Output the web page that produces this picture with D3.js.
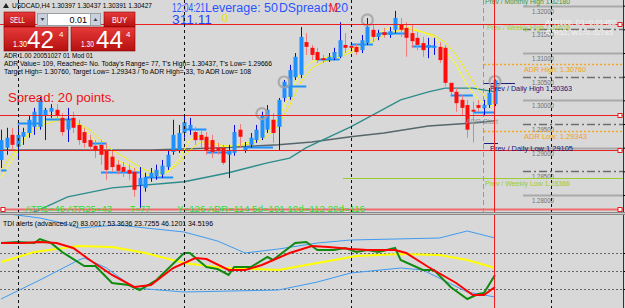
<!DOCTYPE html>
<html>
<head>
<meta charset="utf-8">
<script src="https://cdn.jsdelivr.net/npm/d3@7"></script>
<style>
  html, body { margin: 0; padding: 0; background: #d8d8d8; }
  svg { display: block; font-family: "Liberation Sans", Arial, sans-serif; }
</style>
</head>
<body>
<svg id="chart" width="625" height="308"></svg>
<script>
// ---- USDCAD H4 candles (oldest -> newest) ----
var opens  = [1.2874,1.2900,1.2927,1.2902,1.2923,1.2931,1.2944,1.2944,1.2969,1.2976,
              1.2980,1.2963,1.2938,1.2963,1.2948,1.2933,1.2916,1.2904,1.2906,1.2895,
              1.2881,1.2864,1.2859,1.2853,1.2849,1.2821,1.2815,1.2836,1.2840,1.2843,
              1.2859,1.2891,1.2895,1.2931,1.2938,1.2933,1.2927,1.2923,1.2916,1.2900,
              1.2900,1.2885,1.2889,1.2938,1.2895,1.2906,1.2916,1.2921,1.2938,1.2959,
              1.2944,1.3005,1.3007,1.3049,1.3054,1.3123,1.3111,1.3102,1.3089,1.3085,
              1.3089,1.3092,1.3117,1.3115,1.3113,1.3106,1.3121,1.3149,1.3134,1.3144,
              1.3138,1.3149,1.3161,1.3153,1.3142,1.3132,1.3121,1.3111,1.3111,1.3113,
              1.3111,1.3037,1.3018,1.3001,1.2990,1.2980,1.2990,1.2984,1.2990,1.2992];
var highs  = [1.2938,1.2942,1.2942,1.2948,1.2942,1.2969,1.2984,1.3007,1.2984,1.2992,
              1.2992,1.2973,1.2984,1.2976,1.2959,1.2942,1.2927,1.2916,1.2916,1.2910,
              1.2895,1.2874,1.2870,1.2864,1.2857,1.2859,1.2847,1.2857,1.2864,1.2874,
              1.2895,1.2959,1.2948,1.2967,1.2963,1.2944,1.2938,1.2933,1.2927,1.2910,
              1.2906,1.2906,1.2948,1.2950,1.2912,1.2931,1.2948,1.2976,1.2990,1.2973,
              1.3005,1.3043,1.3075,1.3100,1.3155,1.3142,1.3117,1.3111,1.3096,1.3100,
              1.3111,1.3165,1.3142,1.3123,1.3119,1.3138,1.3174,1.3159,1.3149,1.3153,
              1.3155,1.3189,1.3174,1.3165,1.3159,1.3144,1.3134,1.3132,1.3132,1.3123,
              1.3117,1.3036,1.3026,1.3011,1.3001,1.2997,1.3001,1.3001,1.3026,1.3044];
var lows   = [1.2857,1.2885,1.2895,1.2874,1.2906,1.2921,1.2927,1.2938,1.2916,1.2963,
              1.2959,1.2925,1.2912,1.2931,1.2906,1.2900,1.2895,1.2878,1.2864,1.2832,
              1.2849,1.2843,1.2838,1.2832,1.2796,1.2773,1.2807,1.2828,1.2832,1.2836,
              1.2853,1.2885,1.2889,1.2921,1.2927,1.2906,1.2900,1.2885,1.2878,1.2885,
              1.2864,1.2836,1.2883,1.2900,1.2889,1.2900,1.2910,1.2916,1.2931,1.2910,
              1.2895,1.2997,1.3001,1.3043,1.3047,1.3096,1.3085,1.3079,1.3079,1.3081,
              1.3085,1.3089,1.3100,1.3102,1.3096,1.3100,1.3117,1.3123,1.3127,1.3132,
              1.3132,1.3142,1.3134,1.3092,1.3111,1.3106,1.3092,1.3089,1.3096,1.3079,
              1.3030,1.3011,1.2976,1.2969,1.2921,1.2911,1.2976,1.2967,1.2984,1.2988];
var closes = [1.2916,1.2921,1.2906,1.2927,1.2933,1.2959,1.2976,1.3001,1.2980,1.2984,
              1.2969,1.2933,1.2959,1.2942,1.2916,1.2910,1.2902,1.2895,1.2885,1.2853,
              1.2859,1.2851,1.2849,1.2845,1.2811,1.2836,1.2838,1.2847,1.2853,1.2862,
              1.2885,1.2927,1.2931,1.2954,1.2948,1.2916,1.2916,1.2895,1.2891,1.2893,
              1.2868,1.2895,1.2933,1.2923,1.2902,1.2921,1.2938,1.2969,1.2980,1.2931,
              1.3001,1.3039,1.3064,1.3092,1.3134,1.3113,1.3096,1.3085,1.3085,1.3092,
              1.3102,1.3127,1.3111,1.3111,1.3102,1.3127,1.3155,1.3134,1.3142,1.3138,
              1.3146,1.3174,1.3149,1.3132,1.3125,1.3117,1.3106,1.3117,1.3115,1.3085,
              1.3037,1.3018,1.2994,1.2984,1.2938,1.2976,1.2984,1.2990,1.3016,1.3042];

// moving averages, [bar, price]
var yellowFast = [[0,1.2836],[2,1.2874],[4,1.2916],[6,1.2944],[8,1.2957],[10,1.2963],[12,1.2961],
  [14,1.2948],[16,1.2927],[18,1.2900],[20,1.2878],[22,1.2868],[24,1.2857],[26,1.2843],[28,1.2838],
  [30,1.2849],[32,1.2874],[34,1.2916],[36,1.2925],[38,1.2910],[40,1.2902],[42,1.2904],[44,1.2910],
  [46,1.2916],[48,1.2933],[50,1.2963],[52,1.3011],[54,1.3060],[56,1.3081],[58,1.3089],[60,1.3094],
  [62,1.3102],[64,1.3113],[66,1.3127],[68,1.3142],[70,1.3153],[72,1.3157],[74,1.3153],[76,1.3144],
  [78,1.3134],[80,1.3106],[82,1.3075],[84,1.3032],[86,1.3001],[88,1.2990],[89,1.2988]];
var yellowSlow = [[0,1.2853],[2,1.2885],[4,1.2916],[6,1.2938],[8,1.2950],[10,1.2957],[12,1.2957],
  [14,1.2950],[16,1.2938],[18,1.2916],[20,1.2895],[22,1.2881],[24,1.2866],[26,1.2853],[28,1.2847],
  [30,1.2849],[32,1.2866],[34,1.2895],[36,1.2912],[38,1.2910],[40,1.2904],[42,1.2904],[44,1.2906],
  [46,1.2912],[48,1.2923],[50,1.2948],[52,1.2990],[54,1.3039],[56,1.3068],[58,1.3081],[60,1.3087],
  [62,1.3096],[64,1.3106],[66,1.3119],[68,1.3132],[70,1.3142],[72,1.3149],[74,1.3149],[76,1.3144],
  [78,1.3138],[80,1.3123],[82,1.3096],[84,1.3060],[86,1.3022],[88,1.3001],[89,1.2994]];
var tealMa = [[0,1.2737],[7,1.2769],[12,1.2796],[20,1.2815],[33,1.2828],[41,1.2847],[48,1.2868],
  [52,1.2878],[55,1.2900],[63,1.2944],[72,1.3001],[77,1.3018],[80,1.3026],[85,1.3026],[89,1.3018]];
var grayMa = [[0,1.2895],[10,1.2895],[20,1.2895],[27,1.2895],[40,1.2900],[50,1.2906],[56,1.2912],
  [63,1.2923],[69,1.2931],[77,1.2946],[85,1.2952],[89,1.2957]];

// support / resistance segments [fromBar, toBar, price]
var srSegments = [[0,1,1.2853],[3,7,1.2952],[8,13,1.2961],[16,19,1.2910],[18,25,1.2849],
  [26,31,1.2838],[33,37,1.2940],[37,41,1.2891],[44,49,1.2902],[51,55,1.3030],[57,61,1.3087],
  [63,67,1.3119],[68,73,1.3142],[74,78,1.3115],[81,85,1.3011],[85,89,1.2976]];
var markedBars = [47, 51, 66, 89];

// levels
var levelPrices = [1.28, 1.285, 1.29, 1.295, 1.30, 1.305, 1.31, 1.315, 1.32];
var redLines = [1.3162, 1.2969, 1.2895, 1.2771];
var weekStarts = [3, 33, 63, 99];
var dayStart = 87, currentBar = 89;
var adrHigh = 1.30760, adrLow = 1.29343;
var prevDayHigh = 1.30363, prevDayLow = 1.29105;
var prevWeekHigh = 1.31619, prevWeekLow = 1.28366, prevMonthHigh = 1.32180;

// TDI sub window [bar, value]
var tdiUpper = [[0,108],[7,103],[11,98],[14,93],[21,96],[33,89],[39,80],[44,68],[50,72],[57,78],
  [63,81],[79,83],[84,90],[89,83]];
var tdiLower = [[0,22],[7,41],[14,61],[15,63],[19,53],[24,33],[33,29],[50,31],[57,39],[63,48],
  [72,53],[76,51],[84,29],[89,24]];
var tdiYellow = [[0,59],[6,69],[14,75],[20,74],[26,68],[33,58],[40,53],[50,51],[57,58],[64,65],
  [72,67],[79,66],[84,61],[89,53]];
var tdiGreen = [[0,78],[3,79],[6,78],[7,82],[9,78],[11,69],[15,55],[17,55],[20,38],[23,36],[25,31],
  [28,41],[33,68],[34,68],[37,54],[39,52],[41,46],[42,54],[45,54],[48,64],[49,61],[53,78],[55,79],
  [57,71],[60,71],[62,73],[64,69],[66,71],[68,69],[71,73],[72,61],[76,51],[78,51],[81,34],[84,22],
  [86,27],[87,28],[89,46]];
var tdiRed = [[0,78],[4,78],[7,79],[10,78],[13,73],[16,61],[20,46],[24,34],[27,36],[31,53],[35,63],
  [37,62],[41,51],[44,51],[47,56],[52,68],[56,75],[59,74],[63,72],[66,71],[71,71],[73,68],[77,54],
  [82,38],[85,26],[87,26],[89,34]];
var tdiLevels = [32, 50, 68];

var svg = d3.select('#chart');
var plotRight = 623, mainBottom = 212, subTop = 215, subBottom = 308;

var x = d3.scaleLinear().domain([0, 89]).range([1.05, 495]);
var y = d3.scaleLinear().domain([1.28, 1.31]).range([195, 53]);
var yT = d3.scaleLinear().domain([32, 68]).range([289, 253]);

svg.append('rect').attr('width', 625).attr('height', 308).attr('fill', '#d8d8d8');

var defs = svg.append('defs');
defs.append('clipPath').attr('id', 'mainClip').append('rect')
  .attr('x', 0).attr('y', 0).attr('width', plotRight).attr('height', mainBottom);
defs.append('clipPath').attr('id', 'subClip').append('rect')
  .attr('x', 0).attr('y', subTop).attr('width', plotRight).attr('height', subBottom - subTop);
var grad = defs.append('linearGradient').attr('id', 'redGrad').attr('x1', 0).attr('y1', 0).attr('x2', 0).attr('y2', 1);
grad.append('stop').attr('offset', '0%').attr('stop-color', '#e83a3a');
grad.append('stop').attr('offset', '100%').attr('stop-color', '#b51010');

var main = svg.append('g').attr('clip-path', 'url(#mainClip)');
var sub = svg.append('g').attr('clip-path', 'url(#subClip)');

function txt(g, s, px, py, size, color, len) {
  var t = g.append('text').attr('x', px).attr('y', py).attr('font-size', size)
    .attr('fill', color).text(s);
  if (len) t.attr('textLength', len).attr('lengthAdjust', 'spacingAndGlyphs');
  return t;
}

// round number levels on the right
levelPrices.forEach(function(p, k) {
  var yy = Math.round(y(p)) + 0.5;
  if (k % 2 === 0) {
    main.append('line').attr('x1', 523).attr('x2', plotRight).attr('y1', yy).attr('y2', yy)
      .attr('stroke', '#a9a9a9').attr('stroke-width', 2);
  } else {
    main.append('line').attr('x1', 523).attr('x2', plotRight).attr('y1', yy).attr('y2', yy)
      .attr('stroke', '#6e6e6e').attr('stroke-width', 1.5).attr('stroke-dasharray', '8,3,2,3');
  }
  txt(main, p.toFixed(5), 532, yy + 7, 7.5, '#6f6f6f', 22);
});

// separators
weekStarts.forEach(function(b) {
  var xx = Math.round(x(b)) + 0.5;
  svg.append('line').attr('x1', xx).attr('x2', xx).attr('y1', 0).attr('y2', 308)
    .attr('stroke', '#111').attr('stroke-dasharray', '3,3');
});
main.append('line').attr('x1', Math.round(x(dayStart)) - 0.5).attr('x2', Math.round(x(dayStart)) - 0.5)
  .attr('y1', 0).attr('y2', mainBottom).attr('stroke', '#9a9a9a').attr('stroke-dasharray', '5,3');

// weekly / daily / ADR lines
function hline(p, x1, color, w, dash) {
  var yy = Math.round(y(p)) + 0.5;
  var l = main.append('line').attr('x1', x1).attr('x2', plotRight).attr('y1', yy).attr('y2', yy)
    .attr('stroke', color).attr('stroke-width', w);
  if (dash) l.attr('stroke-dasharray', dash);
  return l;
}
hline(prevWeekLow, 343, '#9acd32', 1);
hline(prevWeekHigh, 343, '#9acd32', 1);
hline(adrHigh, x(dayStart), '#f5a623', 1.5, '2,2');
hline(adrLow, x(dayStart), '#f5a623', 1.5, '2,2');
main.append('line').attr('x1', x(dayStart)).attr('x2', 515).attr('y1', Math.round(y(prevDayHigh)) + 0.5)
  .attr('y2', Math.round(y(prevDayHigh)) + 0.5).attr('stroke', '#1c1c7c');
main.append('line').attr('x1', x(dayStart)).attr('x2', 498).attr('y1', Math.round(y(prevDayLow)) + 0.5)
  .attr('y2', Math.round(y(prevDayLow)) + 0.5).attr('stroke', '#1c1c7c');

// moving averages
var maLine = d3.line().x(function(d) { return x(d[0]); }).y(function(d) { return y(d[1]); });
main.append('path').attr('d', maLine(grayMa)).attr('fill', 'none').attr('stroke', '#56666a').attr('stroke-width', 1.5);
main.append('path').attr('d', maLine(tealMa)).attr('fill', 'none').attr('stroke', '#2c8c8c').attr('stroke-width', 1.3);
main.append('path').attr('d', maLine(yellowSlow)).attr('fill', 'none').attr('stroke', '#f4f000').attr('stroke-width', 1);
main.append('path').attr('d', maLine(yellowFast)).attr('fill', 'none').attr('stroke', '#ffff20').attr('stroke-width', 1);

// S/R segments
main.selectAll('line.sr').data(srSegments).enter().append('line').attr('class', 'sr')
  .attr('x1', function(d) { return x(d[0]); }).attr('x2', function(d) { return x(d[1]); })
  .attr('y1', function(d) { return Math.round(y(d[2])) + 0.5; })
  .attr('y2', function(d) { return Math.round(y(d[2])) + 0.5; })
  .attr('stroke', '#1e90ff').attr('stroke-width', 2);

// candles
var bars = d3.range(opens.length).map(function(i) {
  return { i: i, o: opens[i], h: highs[i], l: lows[i], c: closes[i] };
});
var cg = main.selectAll('g.bar').data(bars).enter().append('g').attr('class', 'bar');
cg.append('line')
  .attr('x1', function(d) { return Math.round(x(d.i)) + 0.5; })
  .attr('x2', function(d) { return Math.round(x(d.i)) + 0.5; })
  .attr('y1', function(d) { return y(d.h); }).attr('y2', function(d) { return y(d.l); })
  .attr('stroke', function(d) { return d.c >= d.o ? '#0a0adc' : '#f27a7a'; });
cg.append('rect')
  .attr('x', function(d) { return Math.round(x(d.i)) - 1.5; }).attr('width', 4)
  .attr('y', function(d) { return y(Math.max(d.o, d.c)); })
  .attr('height', function(d) { return Math.max(1, Math.abs(y(d.o) - y(d.c))); })
  .attr('fill', function(d) { return d.c >= d.o ? '#1e90ff' : '#ff0d0d'; });

main.selectAll('circle.mark').data(markedBars).enter().append('circle').attr('class', 'mark')
  .attr('cx', function(d) { return x(d); }).attr('cy', function(d) { return y(highs[d]) + 2; })
  .attr('r', 5.5).attr('fill', 'none').attr('stroke', '#a3a3a3').attr('stroke-width', 2.2).attr('opacity', 0.85);

// red horizontal lines
redLines.forEach(function(p, k) {
  var yy = Math.round(y(p)) + 0.5;
  main.append('line').attr('x1', 0).attr('x2', plotRight).attr('y1', yy).attr('y2', yy)
    .attr('stroke', k === 3 ? '#f06a6a' : '#ec2020').attr('stroke-width', k === 3 ? 2 : 1);
  main.append('rect').attr('x', 618).attr('y', yy - 2).attr('width', 4).attr('height', 4)
    .attr('fill', '#fff').attr('stroke', '#e02020');
});
main.append('rect').attr('x', 1).attr('y', Math.round(y(redLines[3])) - 1.5).attr('width', 4).attr('height', 4)
  .attr('fill', '#fff').attr('stroke', '#e02020');

// red time line
svg.append('line').attr('x1', Math.round(x(currentBar)) - 0.5).attr('x2', Math.round(x(currentBar)) - 0.5)
  .attr('y1', 0).attr('y2', 308).attr('stroke', '#ee1c1c');

// right axis
var axisMain = d3.axisRight(y).tickValues(levelPrices).tickSize(3).tickSizeOuter(0).tickFormat('');
svg.append('g').attr('transform', 'translate(' + (plotRight + 0.5) + ',0)').call(axisMain)
  .call(function(g) { g.select('.domain').attr('d', 'M0,0V' + mainBottom).attr('stroke', '#333'); });

// window separator
svg.append('rect').attr('x', 0).attr('y', mainBottom).attr('width', 625).attr('height', subTop - mainBottom)
  .attr('fill', '#c8c8c8');
svg.append('line').attr('x1', 0).attr('x2', 625).attr('y1', mainBottom + 0.5).attr('y2', mainBottom + 0.5).attr('stroke', '#8a8a8a');
svg.append('line').attr('x1', 0).attr('x2', 625).attr('y1', subTop - 0.5).attr('y2', subTop - 0.5).attr('stroke', '#8a8a8a');

// labels in main window
txt(main, 'Prev / Monthly High 1.32180', 485, 3.5, 7.5, '#3e963e', 85);
txt(main, 'Prev / Weekly High 1.31619', 487, 30, 7.5, '#9acd32', 83);
txt(main, 'ATR100, D1=0.01452', 545, 25, 7.5, '#f4f4f4', 71);
txt(main, 'ATR52, W1=0.02785', 545, 35, 7.5, '#f4f4f4', 68);
txt(main, 'ADR High: 1.30760', 524, 72, 7.5, '#f5a020', 62);
txt(main, 'Prev / Daily High 1.30363', 490, 90.5, 7.5, '#14147a', 82);
txt(main, 'ADR Start', 466, 124, 7.5, '#8a9898', 32);
txt(main, 'ADR Low: 1.29343', 524, 138.5, 7.5, '#f5a020', 63);
txt(main, 'Prev / Daily Low 1.29105', 490, 150.5, 7.5, '#14147a', 83);
txt(main, 'Prev / Weekly Low 1.28366', 485, 185.5, 7.5, '#9acd32', 85);

txt(main, 'ATR5=46  ATR25=43', 25, 212, 9.5, '#2ee02e', 87);
txt(main, 'T=77', 130, 212, 9.5, '#2ee02e', 20);
txt(main, 'Y=126  ADR=114  5d=101  10d=112  20d=116', 177, 212, 9.5, '#2ee02e', 188);

txt(main, 'Spread: 20 points.', 8, 102, 13, '#f01010', 107);

txt(main, 'ADR 1.00 20051027 01 Mod 01', 4, 57.5, 7, '#000', 89);
txt(main, "ADR Value= 109, Reached= No. Today's Range= 77, T's High= 1.30437, T's Low= 1.29666", 4, 65.5, 7, '#000', 268);
txt(main, 'Target High= 1.30760, Target Low= 1.29343 / To ADR High= 33, To ADR Low= 108', 4, 73.5, 7, '#000', 247);

txt(main, '12:04:21', 172, 12, 12, '#2a55ff', 33);
txt(main, 'Leverage: 50', 205, 12, 12, '#2a55ff', 73);
txt(main, 'DSpread: 20', 279, 12, 12, '#2a55ff', 69);
txt(main, 'M', 329, 12, 12, '#ee1111', 9);
txt(main, '311.11', 172, 24, 13, '#2a40ff', 40);
txt(main, '0', 222, 22, 11, '#f0e000');

// header
main.append('path').attr('d', 'M3,8 L6,3 L9,8 Z').attr('fill', '#222');
txt(main, 'USDCAD,H4  1.30397 1.30437 1.30391 1.30427', 12, 8, 7.5, '#000', 140);

// one click trading panel
var panel = svg.append('g');
function redBox(x0, y0, w, h) {
  panel.append('rect').attr('x', x0).attr('y', y0).attr('width', w).attr('height', h)
    .attr('fill', 'url(#redGrad)').attr('stroke', '#8c0000').attr('stroke-width', 0.6);
}
redBox(4, 12, 31, 15);
redBox(4, 27, 64, 24);
redBox(104, 12, 31, 15);
redBox(71, 27, 64, 24);
txt(panel, 'SELL', 10, 23, 9, '#fff', 15);
txt(panel, 'BUY', 112, 23, 9, '#fff', 15);
panel.append('rect').attr('x', 37.5).attr('y', 13.5).attr('width', 63).attr('height', 12)
  .attr('fill', '#fff').attr('stroke', '#9aa0a8');
panel.append('rect').attr('x', 37.5).attr('y', 13.5).attr('width', 10).attr('height', 12).attr('fill', '#c9d2dc').attr('stroke', '#9aa0a8');
panel.append('rect').attr('x', 90.5).attr('y', 13.5).attr('width', 10).attr('height', 12).attr('fill', '#c9d2dc').attr('stroke', '#9aa0a8');
panel.append('path').attr('d', 'M40.5,18 L44.5,18 L42.5,21 Z').attr('fill', '#445');
panel.append('path').attr('d', 'M93.5,21 L97.5,21 L95.5,18 Z').attr('fill', '#445');
txt(panel, '0.01', 87, 22.5, 9, '#000').attr('text-anchor', 'end');
txt(panel, '1.30', 13, 47, 9, '#fff', 14);
txt(panel, '42', 27, 48, 23, '#fff', 27);
txt(panel, '4', 59, 37, 8, '#fff');
txt(panel, '1.30', 81, 47, 9, '#fff', 13);
txt(panel, '44', 96, 48, 23, '#fff', 27);
txt(panel, '4', 126, 37, 8, '#fff');

// ---- TDI sub window ----
tdiLevels.forEach(function(v) {
  sub.append('line').attr('x1', 0).attr('x2', plotRight).attr('y1', Math.round(yT(v)) + 0.5)
    .attr('y2', Math.round(yT(v)) + 0.5).attr('stroke', '#666').attr('stroke-dasharray', '2,2');
});
var tLine = d3.line().x(function(d) { return x(d[0]); }).y(function(d) { return yT(d[1]); });
sub.append('path').attr('d', tLine(tdiUpper)).attr('fill', 'none').attr('stroke', '#3f9bf2').attr('stroke-width', 1);
sub.append('path').attr('d', tLine(tdiLower)).attr('fill', 'none').attr('stroke', '#3f9bf2').attr('stroke-width', 1);
sub.append('path').attr('d', tLine(tdiYellow)).attr('fill', 'none').attr('stroke', '#ffff00').attr('stroke-width', 2);
sub.append('path').attr('d', tLine(tdiGreen)).attr('fill', 'none').attr('stroke', '#108a10').attr('stroke-width', 2);
sub.append('path').attr('d', tLine(tdiRed)).attr('fill', 'none').attr('stroke', '#ff0000').attr('stroke-width', 2);
txt(sub, 'TDI alerts (advanced v2)  83.0017 53.3636 23.7255 46.1201 34.5196', 3, 225.5, 7, '#000', 210);

var axisSub = d3.axisRight(yT).tickValues(tdiLevels).tickSize(3).tickSizeOuter(0).tickFormat('');
svg.append('g').attr('transform', 'translate(' + (plotRight + 0.5) + ',0)').call(axisSub)
  .call(function(g) { g.select('.domain').attr('d', 'M0,' + subTop + 'V' + subBottom).attr('stroke', '#333'); });
</script>
</body>
</html>
